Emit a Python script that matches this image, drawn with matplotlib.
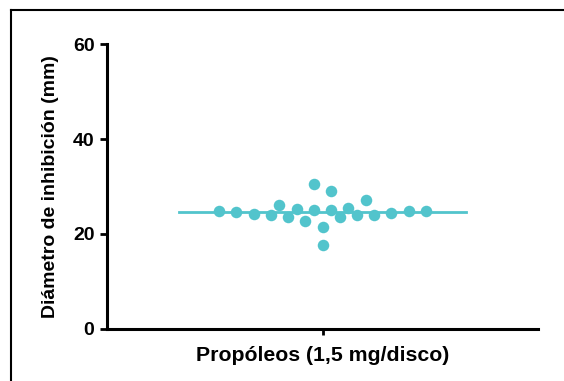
import matplotlib
matplotlib.use("Agg")
import matplotlib.pyplot as plt
from matplotlib.lines import Line2D
import numpy as np

plt.rcParams['font.family'] = ['Liberation Sans', 'DejaVu Sans']

category = "Propóleos (1,5 mg/disco)"
ylabel = "Diámetro de inhibición (mm)"
# inhibition diameters (mm)
values = [24.9, 24.6, 24.2, 24.0, 26.1, 23.5, 25.2, 22.8, 30.5, 25.05, 21.5,
          17.6, 29.0, 25.05, 23.5, 25.5, 24.0, 27.1, 24.0, 24.5, 24.8, 24.9]
# swarm slot of each point (half-point steps from the category centre)
slots = [-12, -10, -8, -6, -5, -4, -3, -2, -1, -1, 0,
         0, 1, 1, 2, 3, 4, 5, 6, 8, 10, 12]
yticks = [0, 20, 40, 60]

color = '#52C4CC'
step = 0.04

fig = plt.figure(figsize=(5.64, 3.81), dpi=100)
ax = fig.add_axes([0.1897, 0.1365, 0.954 - 0.1897, 0.8845 - 0.1365])

xs = np.array(slots) * step
ax.plot(xs, values, 'o', ms=8.3, color=color, mec='none', zorder=3)
mean = np.mean(values)
ax.plot([-0.667, 0.667], [mean, mean], color=color, lw=2, zorder=2)

ax.set_xlim(-1, 1)
ax.set_ylim(0, 60)
ax.set_yticks(yticks)
ax.set_yticklabels([str(t) for t in yticks], fontsize=14, fontweight='bold')
ax.set_xticks([0])
ax.set_xticklabels([category], fontsize=15.3, fontweight='bold')
ax.set_ylabel(ylabel, fontsize=14, fontweight='bold', labelpad=10)
for s in ['top', 'right']:
    ax.spines[s].set_visible(False)
for s in ['left', 'bottom']:
    ax.spines[s].set_linewidth(2.2)
ax.tick_params(axis='y', width=2, length=5, pad=4)
ax.tick_params(axis='x', width=2, length=4, pad=8)

# outer frame (top and left edges)
W, H = 564, 381
fig.add_artist(Line2D([11 / W, 1], [1 - 10 / H, 1 - 10 / H], color='black', lw=1.5, transform=fig.transFigure))
fig.add_artist(Line2D([11 / W, 11 / W], [0, 1 - 10 / H], color='black', lw=1.5, transform=fig.transFigure))

fig.savefig('out.png', dpi=100)
